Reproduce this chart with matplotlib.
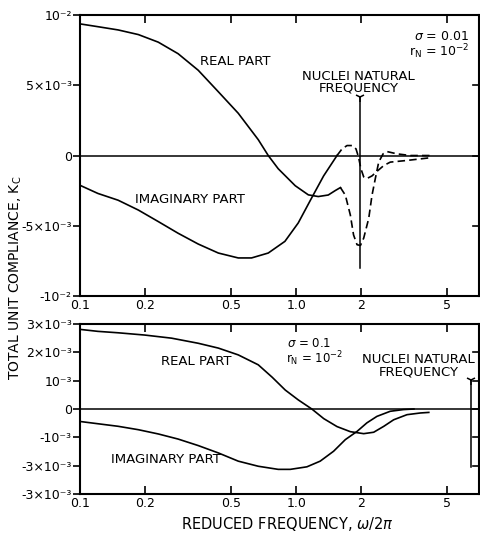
import matplotlib
matplotlib.use("Agg")
import matplotlib.pyplot as plt
from matplotlib.ticker import FixedLocator, FixedFormatter, NullLocator

# ---- data ----
# upper panel, sigma = 0.01 (solid part, then dashed part near the nuclei frequency)
real1_f = [0.1, 0.121, 0.150, 0.186, 0.230, 0.284, 0.352, 0.436, 0.539, 0.667, 0.742,
           0.825, 0.989, 1.137, 1.264, 1.406, 1.516, 1.60]
real1_v = [0.00937, 0.00917, 0.00894, 0.00861, 0.00807, 0.00725, 0.00607, 0.00454, 0.00301,
           0.00113, 0.0, -0.00094, -0.00215, -0.0028, -0.00292, -0.00281, -0.00249, -0.00228]
real1_df = [1.60, 1.686, 1.778, 1.84, 1.91, 1.98, 2.05, 2.163, 2.24, 2.32, 2.405, 2.52,
            2.63, 2.92, 3.37, 4.15]
real1_dv = [-0.00228, -0.00282, -0.00423, -0.00565, -0.00635, -0.0064, -0.00588, -0.00447,
            -0.00282, -0.00164, -0.00047, 0.00012, 0.00028, 0.00012, 0.0, 0.0]

imag1_f = [0.1, 0.121, 0.150, 0.186, 0.230, 0.284, 0.352, 0.436, 0.539, 0.621, 0.742,
           0.886, 1.021, 1.17, 1.338, 1.543]
imag1_v = [-0.00212, -0.0027, -0.00318, -0.00388, -0.0047, -0.00553, -0.0063, -0.00694,
           -0.00729, -0.00729, -0.00694, -0.00611, -0.0048, -0.0031, -0.00145, 0.0]
imag1_df = [1.543, 1.627, 1.717, 1.81, 1.889, 1.94, 1.99, 2.05, 2.12, 2.24, 2.36, 2.54,
            2.72, 3.25, 4.15]
imag1_dv = [0.0, 0.00047, 0.00071, 0.00071, 0.00047, -0.00011, -0.00094, -0.00152, -0.00164,
            -0.00145, -0.00113, -0.00071, -0.00047, -0.00035, -0.00016]

# lower panel, sigma = 0.1
real2_f = [0.1, 0.121, 0.150, 0.199, 0.265, 0.352, 0.436, 0.539, 0.667, 0.774, 0.889,
           1.022, 1.18, 1.34, 1.543, 1.778, 2.05, 2.28, 2.54, 2.82, 3.25, 3.75, 4.1]
real2_v = [0.00281, 0.00274, 0.00269, 0.00261, 0.0025, 0.00232, 0.00215, 0.00191, 0.00156,
           0.00112, 0.00067, 0.00032, 0.0, -0.00034, -0.00062, -0.0008, -0.00087, -0.00082,
           -0.00061, -0.00038, -0.0002, -0.00014, -0.00012]
imag2_f = [0.1, 0.121, 0.150, 0.186, 0.230, 0.284, 0.352, 0.436, 0.539, 0.667, 0.825,
           0.938, 1.12, 1.29, 1.488, 1.686, 1.91, 2.12, 2.36, 2.72, 3.13, 3.5]
imag2_v = [-0.00044, -0.00052, -0.00061, -0.00073, -0.00088, -0.00106, -0.00129, -0.00155,
           -0.00184, -0.00202, -0.00213, -0.00213, -0.00204, -0.00184, -0.00149, -0.00108,
           -0.00079, -0.00049, -0.00026, -0.00008, -0.00002, 0.0]

x_ticks = [0.1, 0.2, 0.5, 1.0, 2, 5]
x_labels = ["0.1", "0.2", "0.5", "1.0", "2", "5"]

y1_ticks = [0.01, 0.005, 0, -0.005, -0.01]
y1_labels = ["10⁻²", "5×10⁻³", "0", "-5×10⁻³", "-10⁻²"]
y2_ticks = [0.003, 0.002, 0.001, 0, -0.001, -0.002, -0.003]
y2_labels = ["3×10⁻³", "2×10⁻³", "10⁻³", "0", "-10⁻³", "-3×10⁻³", "-3×10⁻³"]

# nuclei natural frequency markers (freq, top, bottom)
nuc1 = (1.97, 0.0042, -0.0080)
nuc2 = (6.4, 0.00102, -0.00205)

plt.rcParams['font.family'] = 'DejaVu Sans'
plt.rcParams['mathtext.fontset'] = 'dejavusans'

fig = plt.figure(figsize=(4.8, 5.35), dpi=100)
ax1 = fig.add_axes([0.1667, 0.4467, 0.8313, 0.5252])
ax2 = fig.add_axes([0.1667, 0.0766, 0.8313, 0.3178])

dash = (0, (4.5, 2.5))
lw = 1.2
fs = 9.5

def setup(ax, yt, yl, ylim):
    ax.set_xscale('log')
    ax.set_xlim(0.1, 7.0)
    ax.set_ylim(*ylim)
    ax.xaxis.set_major_locator(FixedLocator(x_ticks))
    ax.xaxis.set_major_formatter(FixedFormatter(x_labels))
    ax.xaxis.set_minor_locator(NullLocator())
    ax.set_yticks(yt)
    ax.set_yticklabels(yl)
    ax.tick_params(axis='x', direction='in', top=True, length=6, width=1.2, labelsize=9, pad=2)
    ax.tick_params(axis='y', direction='out', length=5, width=1.2, labelsize=9, pad=1)
    for sp in ax.spines.values():
        sp.set_linewidth(1.5)
    ax.axhline(0, color='black', lw=1.1)
    # inward ticks on the right side
    for t in yt:
        if ylim[0] < t < ylim[1]:
            ax.plot([1.0, 0.985], [t, t], color='black', lw=1.2,
                    transform=ax.get_yaxis_transform(), clip_on=False)

setup(ax1, y1_ticks, y1_labels, (-0.01, 0.01))
setup(ax2, y2_ticks, y2_labels, (-0.003, 0.003))

# upper panel curves
ax1.plot(real1_f, real1_v, color='black', lw=lw)
ax1.plot(real1_df, real1_dv, color='black', lw=lw, linestyle=dash)
ax1.plot(imag1_f, imag1_v, color='black', lw=lw)
ax1.plot(imag1_df, imag1_dv, color='black', lw=lw, linestyle=dash)
ax1.plot([nuc1[0], nuc1[0]], [nuc1[1], nuc1[2]], color='black', lw=1.1)
ax1.plot([nuc1[0]], [nuc1[1]], marker='1', color='black', ms=7, mew=1.1)

ax1.text(0.52, 0.0067, "REAL PART", fontsize=fs, ha='center', va='center')
ax1.text(0.324, -0.0031, "IMAGINARY PART", fontsize=fs, ha='center', va='center')
ax1.text(1.94, 0.0052, "NUCLEI NATURAL\nFREQUENCY", fontsize=fs, ha='center',
         va='center', linespacing=0.9)
ax1.text(6.3, 0.0085, r"$\sigma$ = 0.01", fontsize=9, ha='right', va='center')
ax1.text(6.3, 0.0074, r"r$_\mathregular{N}$ = 10$^{-2}$", fontsize=9, ha='right', va='center')

# lower panel curves
ax2.plot(real2_f, real2_v, color='black', lw=lw)
ax2.plot(imag2_f, imag2_v, color='black', lw=lw)
ax2.plot([nuc2[0], nuc2[0]], [nuc2[1], nuc2[2]], color='black', lw=1.1)
ax2.plot([nuc2[0]], [nuc2[1]], marker='1', color='black', ms=7, mew=1.1)

ax2.text(0.343, 0.00167, "REAL PART", fontsize=fs, ha='center', va='center')
ax2.text(0.249, -0.00178, "IMAGINARY PART", fontsize=fs, ha='center', va='center')
ax2.text(0.908, 0.00232, r"$\sigma$ = 0.1", fontsize=8.5, ha='left', va='center')
ax2.text(0.896, 0.00178, r"r$_\mathregular{N}$ = 10$^{-2}$", fontsize=8.5, ha='left', va='center')
ax2.text(3.67, 0.00152, "NUCLEI NATURAL\nFREQUENCY", fontsize=fs, ha='center',
         va='center', linespacing=0.9)

fig.text(0.033, 0.48, r"TOTAL UNIT COMPLIANCE, K$_\mathregular{C}$", rotation=90,
         fontsize=10, ha='center', va='center')
fig.text(0.598, 0.02, r"REDUCED FREQUENCY, $\omega/2\pi$", fontsize=10.5,
         ha='center', va='center')

fig.savefig("out.png", dpi=100, facecolor='white')
